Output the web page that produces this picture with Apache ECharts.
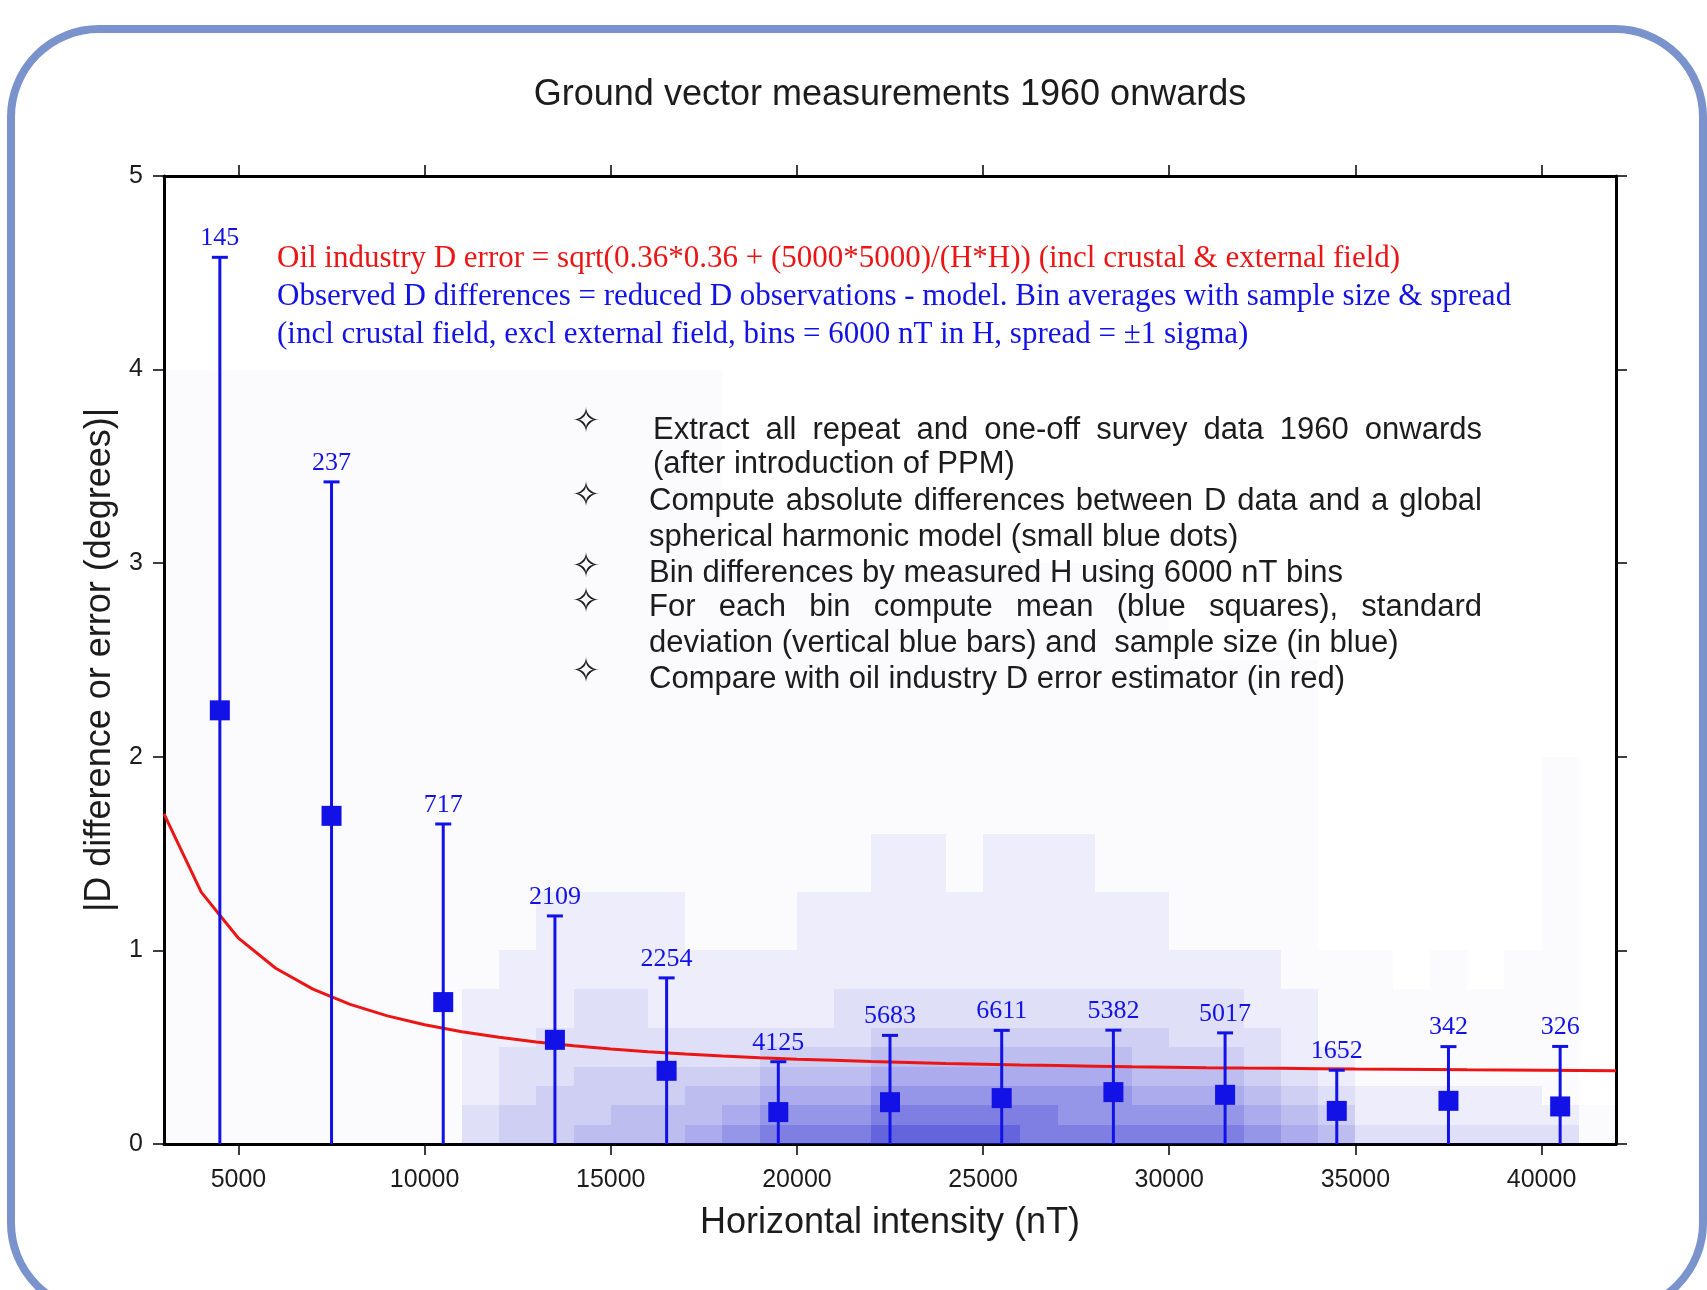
<!DOCTYPE html>
<html>
<head>
<meta charset="utf-8">
<title>Ground vector measurements 1960 onwards</title>
<script src="https://cdn.jsdelivr.net/npm/echarts@6/dist/echarts.min.js"></script>
<style>
html, body { margin: 0; padding: 0; background: #fff; }
#chart { width: 1707px; height: 1290px; }
</style>
</head>
<body>
<div id="chart"></div>
<script>
// bin averages (6000 nT bins, centres every 3000 nT)
var binCentres = [4500, 7500, 10500, 13500, 16500, 19500, 22500, 25500, 28500, 31500, 34500, 37500, 40500];
var binMeans = [2.24, 1.695, 0.733, 0.538, 0.378, 0.165, 0.216, 0.237, 0.268, 0.254, 0.171, 0.223, 0.194];
var binSigmas = [2.34, 1.725, 0.92, 0.64, 0.48, 0.26, 0.345, 0.35, 0.32, 0.32, 0.21, 0.28, 0.31];
var binCounts = [145, 237, 717, 2109, 2254, 4125, 5683, 6611, 5382, 5017, 1652, 342, 326];

// oil industry D error curve, read every 1000 nT
var oilH = [3000, 4000, 5000, 6000, 7000, 8000, 9000, 10000, 11000, 12000, 13000, 14000, 15000, 16000,
  17000, 18000, 19000, 20000, 21000, 22000, 23000, 24000, 25000, 26000, 27000, 28000, 29000, 30000,
  31000, 32000, 33000, 34000, 35000, 36000, 37000, 38000, 39000, 40000, 41000, 42000];
var oilErr = [1.705, 1.301, 1.063, 0.908, 0.800, 0.721, 0.662, 0.616, 0.580, 0.551, 0.527, 0.507, 0.491, 0.477,
  0.465, 0.455, 0.446, 0.438, 0.432, 0.426, 0.421, 0.416, 0.412, 0.408, 0.405, 0.402, 0.399, 0.397,
  0.394, 0.392, 0.391, 0.389, 0.387, 0.386, 0.385, 0.383, 0.382, 0.381, 0.380, 0.379];

// density of the small blue dots (0 none .. 9 almost solid), 1000 nT columns from 3000 nT, bottom row first
var densityStartH = 3000;
var densityStepH = 1000;
var densityRowEdges = [0, 0.1, 0.2, 0.3, 0.4, 0.5, 0.6, 0.8, 1.0, 1.3, 1.6, 2.0, 2.5, 3.0, 4.0];
var densityRows = [
  '11111111' + '3445556788899998888887653333331',
  '11111111' + '3444555677788888777776542222221',
  '11111111' + '2344445566677777776665432222210',
  '11111111' + '2334444455566666665554321111110',
  '11111111' + '2333333344455555554443221111110',
  '11111111' + '2233333333344444444333211111110',
  '11111111' + '2223322222333333333332211111110',
  '11111111' + '1222222222222222222222111010110',
  '11111111' + '1122221112222222222111100000010',
  '11111111' + '1111111111122122211111100000010',
  '11111111' + '1111111111111111111111100000010',
  '11111111' + '1111111111111111111111100000000',
  '11111111' + '1111111111111111111000000000000',
  '11111111' + '1111111000000000000000000000000'
];

var xTicks = [5000, 10000, 15000, 20000, 25000, 30000, 35000, 40000];

var blue = '#1212e6', red = '#ec1515', ink = '#1c1c1c';
var sansFont = '"Liberation Sans", Arial, sans-serif';
var serifFont = '"Liberation Serif", "Times New Roman", serif';
var densityAlpha = [0, 0.02, 0.08, 0.14, 0.21, 0.29, 0.37, 0.46, 0.56, 0.68];

var chart = echarts.init(document.getElementById('chart'));

var densityData = [];
for (var r = 0; r < densityRows.length; r++) {
  for (var c = 0; c < densityRows[r].length; c++) {
    var level = +densityRows[r].charAt(c);
    if (level > 0) {
      densityData.push([densityStartH + c * densityStepH, densityStartH + (c + 1) * densityStepH,
        densityRowEdges[r], densityRowEdges[r + 1], level]);
    }
  }
}

var barData = binCentres.map(function (h, i) {
  return [h, binMeans[i], binSigmas[i], binCounts[i]];
});
var meanData = binCentres.map(function (h, i) { return [h, binMeans[i]]; });
var oilData = oilH.map(function (h, i) { return [h, oilErr[i]]; });

function renderCell(params, api) {
  var p0 = api.coord([api.value(0), api.value(3)]);
  var p1 = api.coord([api.value(1), api.value(2)]);
  var x0 = Math.round(p0[0]), y0 = Math.round(p0[1]);
  return {
    type: 'rect',
    shape: { x: x0, y: y0, width: Math.round(p1[0]) - x0, height: Math.round(p1[1]) - y0 },
    style: { fill: 'rgba(26,26,205,' + densityAlpha[api.value(4)] + ')' }
  };
}

function renderErrorBar(params, api) {
  var h = api.value(0), mean = api.value(1), sigma = api.value(2);
  var top = api.coord([h, mean + sigma]);
  var bottom = api.coord([h, Math.max(0, mean - sigma)]);
  return {
    type: 'group',
    children: [
      { type: 'line', shape: { x1: top[0], y1: bottom[1], x2: top[0], y2: top[1] }, style: { stroke: blue, lineWidth: 3 } },
      { type: 'line', shape: { x1: top[0] - 8, y1: top[1], x2: top[0] + 8, y2: top[1] }, style: { stroke: blue, lineWidth: 3 } },
      { type: 'text', x: top[0], y: top[1] - 6,
        style: { text: String(api.value(3)), font: '26px ' + serifFont, fill: blue,
          textAlign: 'center', textVerticalAlign: 'bottom' } }
    ]
  };
}

// text helpers
var measureCtx = document.createElement('canvas').getContext('2d');
function textItem(str, x, y, font, color, align) {
  return { type: 'text', x: x, y: y, z: 10, silent: true,
    style: { text: str, font: font, fill: color, textAlign: align || 'left', textVerticalAlign: 'middle' } };
}
function justifiedLine(str, left, right, y, font, color) {
  var words = str.split(' ');
  measureCtx.font = font;
  var widths = words.map(function (w) { return measureCtx.measureText(w).width; });
  var total = widths.reduce(function (a, b) { return a + b; }, 0);
  var gap = (right - left - total) / (words.length - 1);
  var x = left, items = [];
  for (var i = 0; i < words.length; i++) {
    items.push(textItem(words[i], x, y, font, color));
    x += widths[i] + gap;
  }
  return items;
}

var noteFont = '31px ' + serifFont;
var bulletFont = '31px ' + sansFont;
var graphics = [
  { type: 'rect', z: 0, silent: true, shape: { x: 11, y: 29, width: 1692, height: 1282, r: 88 },
    style: { fill: 'none', stroke: '#7b93cc', lineWidth: 8 } },
  textItem('Ground vector measurements 1960 onwards', 890, 95, '36px ' + sansFont, ink, 'center'),
  textItem('Oil industry D error = sqrt(0.36*0.36 + (5000*5000)/(H*H)) (incl crustal & external field)', 277, 259, noteFont, red),
  textItem('Observed D differences = reduced D observations - model. Bin averages with sample size & spread', 277, 297, noteFont, blue),
  textItem('(incl crustal field, excl external field, bins = 6000 nT in H, spread = \u00b11 sigma)', 277, 335, noteFont, blue)
];
[423, 497, 568, 603, 673].forEach(function (y) {
  graphics.push(textItem('\u2727', 586, y, '34px "DejaVu Sans"', ink, 'center'));
});
graphics = graphics.concat(
  justifiedLine('Extract all repeat and one-off survey data 1960 onwards', 653, 1482, 430, bulletFont, ink),
  [textItem('(after introduction of PPM)', 653, 464, bulletFont, ink)],
  justifiedLine('Compute absolute differences between D data and a global', 649, 1482, 501, bulletFont, ink),
  [textItem('spherical harmonic model (small blue dots)', 649, 537, bulletFont, ink),
   textItem('Bin differences by measured H using 6000 nT bins', 649, 573, bulletFont, ink)],
  justifiedLine('For each bin compute mean (blue squares), standard', 649, 1482, 607, bulletFont, ink),
  [textItem('deviation (vertical blue bars) and  sample size (in blue)', 649, 643, bulletFont, ink),
   textItem('Compare with oil industry D error estimator (in red)', 649, 679, bulletFont, ink)]
);

var frameLine = { onZero: false, lineStyle: { color: '#000', width: 3 } };
var frameTick = { inside: false, length: 11, lineStyle: { color: '#000', width: 1.5 } };

chart.setOption({
  animation: false,
  backgroundColor: '#fff',
  grid: { left: 164, top: 176, width: 1452, height: 968 },
  xAxis: [{
    type: 'value', min: 3000, max: 42000, position: 'bottom',
    name: 'Horizontal intensity (nT)', nameLocation: 'middle', nameGap: 61,
    nameTextStyle: { fontSize: 36, color: ink, fontFamily: sansFont },
    axisLine: frameLine,
    axisTick: echarts.util.extend({ customValues: xTicks }, frameTick),
    axisLabel: { customValues: xTicks, margin: 24, fontSize: 25, color: ink, fontFamily: sansFont,
      formatter: function (v) { return String(v); } },
    splitLine: { show: false }
  }, {
    type: 'value', min: 3000, max: 42000, position: 'top',
    axisLine: frameLine,
    axisTick: echarts.util.extend({ customValues: xTicks }, frameTick),
    axisLabel: { show: false },
    splitLine: { show: false }
  }],
  yAxis: [{
    type: 'value', min: 0, max: 5, interval: 1, position: 'left',
    name: '|D difference or error (degrees)|', nameLocation: 'middle', nameRotate: 90, nameGap: 37,
    nameTextStyle: { fontSize: 36, color: ink, fontFamily: sansFont },
    axisLine: frameLine,
    axisTick: frameTick,
    axisLabel: { margin: 21, fontSize: 25, color: ink, fontFamily: sansFont },
    splitLine: { show: false }
  }, {
    type: 'value', min: 0, max: 5, interval: 1, position: 'right',
    axisLine: frameLine,
    axisTick: frameTick,
    axisLabel: { show: false },
    splitLine: { show: false }
  }],
  graphic: graphics,
  series: [{
    type: 'custom', name: 'differences', renderItem: renderCell, data: densityData,
    encode: { x: [0, 1], y: [2, 3] }, z: 1, silent: true
  }, {
    type: 'line', name: 'oil industry D error', data: oilData, symbol: 'none',
    lineStyle: { color: red, width: 3 }, z: 3, silent: true
  }, {
    type: 'custom', name: 'spread', renderItem: renderErrorBar, data: barData,
    encode: { x: 0, y: 1 }, z: 4, silent: true
  }, {
    type: 'scatter', name: 'bin mean', data: meanData, symbol: 'rect', symbolSize: 20,
    itemStyle: { color: blue, opacity: 1 }, z: 5, silent: true
  }]
});
</script>
</body>
</html>
